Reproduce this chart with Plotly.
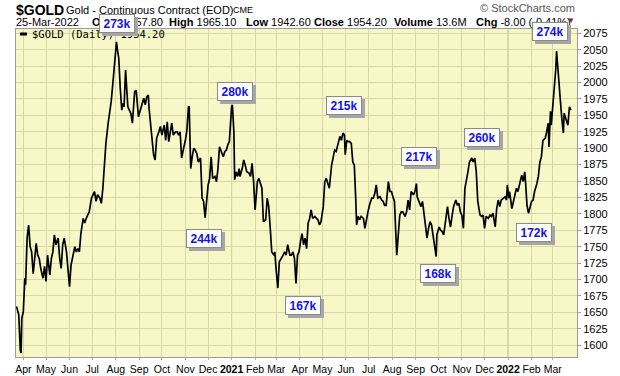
import plotly.graph_objects as go

# ---------------- data ----------------
dates = [
 "2020-03-23","2020-03-26","2020-03-28","2020-03-29","2020-03-30","2020-04-01","2020-04-03","2020-04-04",
 "2020-04-06","2020-04-08","2020-04-10","2020-04-12","2020-04-14","2020-04-16","2020-04-18","2020-04-20",
 "2020-04-22","2020-04-24","2020-04-27","2020-04-29","2020-05-01","2020-05-03","2020-05-06","2020-05-08",
 "2020-05-10","2020-05-12","2020-05-14","2020-05-17","2020-05-19","2020-05-21","2020-05-23","2020-05-25",
 "2020-05-28","2020-05-30","2020-06-01","2020-06-03","2020-06-05","2020-06-08","2020-06-10","2020-06-12",
 "2020-06-14","2020-06-16","2020-06-19","2020-06-21","2020-06-23","2020-06-25","2020-06-27","2020-06-30",
 "2020-07-02","2020-07-04","2020-07-06","2020-07-08","2020-07-11","2020-07-13","2020-07-15","2020-07-17",
 "2020-07-19","2020-07-22","2020-07-24","2020-07-26","2020-07-28","2020-07-30","2020-08-02","2020-08-03",
 "2020-08-05","2020-08-07","2020-08-09","2020-08-10","2020-08-12","2020-08-14","2020-08-16","2020-08-17",
 "2020-08-19","2020-08-21","2020-08-23","2020-08-24","2020-08-26","2020-08-28","2020-08-30","2020-08-31",
 "2020-09-02","2020-09-04","2020-09-06","2020-09-07","2020-09-09","2020-09-11","2020-09-13","2020-09-14",
 "2020-09-17","2020-09-20","2020-09-22","2020-09-24","2020-09-27","2020-09-29","2020-10-01","2020-10-04",
 "2020-10-06","2020-10-08","2020-10-10","2020-10-12","2020-10-14","2020-10-16","2020-10-19","2020-10-21",
 "2020-10-23","2020-10-25","2020-10-27","2020-10-30","2020-11-01","2020-11-03","2020-11-05","2020-11-06",
 "2020-11-08","2020-11-10","2020-11-12","2020-11-14","2020-11-16","2020-11-18","2020-11-21","2020-11-23",
 "2020-11-25","2020-11-27","2020-11-29","2020-12-01","2020-12-03","2020-12-05","2020-12-07","2020-12-10",
 "2020-12-12","2020-12-14","2020-12-16","2020-12-18","2020-12-21","2020-12-23","2020-12-25","2020-12-27",
 "2020-12-29","2021-01-01","2021-01-02","2021-01-04","2021-01-05","2021-01-07","2021-01-09","2021-01-11",
 "2021-01-12","2021-01-15","2021-01-17","2021-01-19","2021-01-21","2021-01-24","2021-01-26","2021-01-28",
 "2021-01-30","2021-02-01","2021-02-04","2021-02-06","2021-02-08","2021-02-10","2021-02-12","2021-02-15",
 "2021-02-17","2021-02-19","2021-02-21","2021-02-23","2021-02-26","2021-02-27","2021-03-01","2021-03-03",
 "2021-03-05","2021-03-08","2021-03-10","2021-03-12","2021-03-14","2021-03-16","2021-03-19","2021-03-21",
 "2021-03-23","2021-03-25","2021-03-27","2021-03-29","2021-03-31","2021-04-02","2021-04-04","2021-04-06",
 "2021-04-08","2021-04-10","2021-04-12","2021-04-14","2021-04-16","2021-04-18","2021-04-21","2021-04-23",
 "2021-04-25","2021-04-27","2021-04-29","2021-05-02","2021-05-04","2021-05-06","2021-05-08","2021-05-10",
 "2021-05-13","2021-05-15","2021-05-17","2021-05-19","2021-05-21","2021-05-24","2021-05-26","2021-05-28",
 "2021-05-30","2021-05-31","2021-06-02","2021-06-04","2021-06-06","2021-06-08","2021-06-10","2021-06-12",
 "2021-06-14","2021-06-15","2021-06-17","2021-06-19","2021-06-21","2021-06-24","2021-06-26","2021-06-28",
 "2021-06-30","2021-07-02","2021-07-05","2021-07-07","2021-07-09","2021-07-11","2021-07-13","2021-07-16",
 "2021-07-18","2021-07-20","2021-07-22","2021-07-24","2021-07-27","2021-07-29","2021-07-31","2021-08-02",
 "2021-08-04","2021-08-07","2021-08-09","2021-08-11","2021-08-13","2021-08-15","2021-08-18","2021-08-20",
 "2021-08-22","2021-08-24","2021-08-26","2021-08-29","2021-08-31","2021-09-02","2021-09-03","2021-09-05",
 "2021-09-08","2021-09-10","2021-09-12","2021-09-14","2021-09-16","2021-09-18","2021-09-20","2021-09-22",
 "2021-09-24","2021-09-26","2021-09-28","2021-09-29","2021-10-02","2021-10-04","2021-10-06","2021-10-08",
 "2021-10-10","2021-10-13","2021-10-15","2021-10-17","2021-10-19","2021-10-21","2021-10-24","2021-10-26",
 "2021-10-28","2021-10-30","2021-11-01","2021-11-03","2021-11-05","2021-11-07","2021-11-09","2021-11-11",
 "2021-11-14","2021-11-16","2021-11-18","2021-11-20","2021-11-22","2021-11-25","2021-11-27","2021-11-29",
 "2021-12-01","2021-12-03","2021-12-06","2021-12-08","2021-12-10","2021-12-12","2021-12-15","2021-12-17",
 "2021-12-19","2021-12-21","2021-12-23","2021-12-26","2021-12-28","2021-12-30","2021-12-31","2022-01-02",
 "2022-01-03","2022-01-06","2022-01-08","2022-01-10","2022-01-12","2022-01-14","2022-01-17","2022-01-19",
 "2022-01-21","2022-01-23","2022-01-24","2022-01-26","2022-01-28","2022-01-30","2022-02-01","2022-02-03",
 "2022-02-05","2022-02-08","2022-02-10","2022-02-12","2022-02-14","2022-02-16","2022-02-19","2022-02-21",
 "2022-02-23","2022-02-24","2022-02-26","2022-02-27","2022-03-02","2022-03-04","2022-03-05","2022-03-06",
 "2022-03-08","2022-03-09","2022-03-11","2022-03-13","2022-03-15","2022-03-16","2022-03-18","2022-03-20",
 "2022-03-21","2022-03-23","2022-03-25",
]
prices = [
 1659,1646,1593,1588,1641,1651,1702,1692,
 1763,1783,1750,1742,1709,1732,1755,1737,
 1732,1717,1702,1720,1697,1737,1707,1732,
 1742,1768,1753,1763,1732,1717,1753,1763,
 1742,1715,1689,1722,1732,1750,1742,1747,
 1742,1770,1793,1786,1793,1798,1803,1824,
 1829,1834,1819,1829,1824,1816,1839,1874,
 1907,1938,1953,1971,1996,2027,2062,2052,
 2037,1991,1958,1968,1963,2019,1986,1963,
 1958,1953,1938,1961,1986,1988,1958,1948,
 1956,1963,1973,1976,1966,1978,1981,1961,
 1925,1890,1882,1915,1925,1933,1920,1935,
 1912,1940,1910,1923,1938,1920,1925,1925,
 1920,1925,1885,1902,1912,1928,1963,1963,
 1869,1887,1900,1897,1892,1879,1885,1824,
 1819,1794,1819,1844,1854,1887,1854,1857,
 1849,1869,1902,1897,1887,1895,1897,1905,
 1910,1963,1966,1925,1852,1864,1857,1869,
 1857,1869,1882,1874,1864,1862,1857,1877,
 1849,1806,1849,1854,1844,1839,1788,1791,
 1824,1811,1778,1742,1737,1742,1712,1687,
 1727,1732,1737,1742,1737,1753,1737,1737,
 1742,1732,1694,1737,1742,1758,1770,1753,
 1763,1747,1786,1793,1806,1793,1796,1793,
 1791,1783,1788,1811,1849,1854,1844,1839,
 1874,1885,1897,1895,1905,1918,1912,1923,
 1920,1890,1912,1910,1910,1907,1879,1874,
 1819,1783,1796,1791,1796,1793,1778,1793,
 1803,1813,1824,1824,1831,1844,1824,1826,
 1821,1819,1813,1813,1849,1834,1834,1826,
 1819,1737,1768,1798,1803,1803,1796,1803,
 1821,1806,1834,1829,1834,1846,1826,1821,
 1811,1819,1803,1783,1763,1778,1788,1783,
 1765,1755,1735,1768,1780,1775,1773,1768,
 1788,1811,1793,1780,1796,1811,1821,1813,
 1816,1803,1798,1778,1839,1849,1864,1879,
 1885,1879,1885,1864,1819,1798,1796,1798,
 1778,1796,1793,1798,1796,1801,1780,1808,
 1821,1811,1821,1824,1826,1821,1844,1824,
 1834,1808,1819,1829,1839,1834,1849,1859,
 1849,1864,1849,1813,1801,1813,1819,1821,
 1834,1846,1857,1879,1887,1912,1915,1925,
 1938,1902,1956,1935,1978,1996,2021,2048,
 2011,2001,1973,1945,1923,1953,1945,1940,
 1935,1963,1958,
]

month_ticks = ["2020-04-01","2020-05-01","2020-06-01","2020-07-01","2020-08-01","2020-09-01",
               "2020-10-01","2020-11-01","2020-12-01","2021-01-01","2021-02-01","2021-03-01",
               "2021-04-01","2021-05-01","2021-06-01","2021-07-01","2021-08-01","2021-09-01",
               "2021-10-01","2021-11-01","2021-12-01","2022-01-01","2022-02-01","2022-03-01"]
month_labels = ["Apr","May","Jun","Jul","Aug","Sep","Oct","Nov","Dec","2021","Feb","Mar",
                "Apr","May","Jun","Jul","Aug","Sep","Oct","Nov","Dec","2022","Feb","Mar"]
year_starts = ["2021-01-01", "2022-01-01"]

note_labels = ["273k", "280k", "244k", "167k", "215k", "217k", "168k", "260k", "172k", "274k"]
note_dates = ["2020-08-03", "2021-01-06", "2020-11-26", "2021-04-05", "2021-05-29",
              "2021-09-05", "2021-09-30", "2021-11-27", "2022-02-04", "2022-02-25"]
note_prices = [2078, 1987, 1763, 1660, 1965, 1887, 1709, 1916, 1772, 2077]
note_lift = [8, 0, 0, 0, 0, 0, 0, 0, 0, 0]   # extra pixels upward for a label above the frame

y_ticks = list(range(1600, 2076, 25))

# ---------------- layout geometry ----------------
W, H = 620, 376
L, R, T, B = 16, 577, 29, 357
PW, PH = R - L, B - T


def px(xp):
    return (xp - L) / PW


def py(yp):
    return (B - yp) / PH


FONT = "Liberation Sans, Arial, sans-serif"

fig = go.Figure()
fig.add_trace(go.Scatter(x=dates, y=prices, mode="lines",
                         line=dict(color="#000000", width=1.7),
                         hoverinfo="skip", showlegend=False))

ticktext = [f"<b>{t}</b>" if t.isdigit() else t for t in month_labels]

fig.update_layout(
    width=W, height=H,
    margin=dict(l=L, r=W - R, t=T, b=H - B, pad=0, autoexpand=False),
    paper_bgcolor="#FFFFFF",
    plot_bgcolor="#F8F7C8",
    font=dict(family=FONT, size=11, color="#000000"),
    xaxis=dict(type="date", range=["2020-03-22 08:00", "2022-04-02"],
               tickmode="array", tickvals=month_ticks, ticktext=ticktext,
               tickangle=0, automargin=False,
               showgrid=True, gridcolor="#D7D9A4", gridwidth=1,
               showline=True, linecolor="#9C9C9C", linewidth=1, mirror=True,
               ticks="outside", ticklen=2, tickcolor="#B0B0B0",
               tickfont=dict(size=10.5, family=FONT), zeroline=False, fixedrange=True),
    yaxis=dict(range=[1582, 2081.5], side="right", tickmode="array",
               tickvals=y_ticks, ticktext=[str(v) for v in y_ticks], automargin=False,
               showgrid=True, gridcolor="#D7D9A4", gridwidth=1,
               showline=True, linecolor="#9C9C9C", linewidth=1, mirror=True,
               ticks="outside", ticklen=3, tickcolor="#9C9C9C",
               tickfont=dict(size=11, family=FONT), zeroline=False, fixedrange=True),
)

shapes = []
for ys in year_starts:
    shapes.append(dict(type="line", xref="x", yref="paper", x0=ys, x1=ys, y0=0, y1=1,
                       line=dict(color="#B4B67E", width=1), layer="below"))
# legend dash
shapes.append(dict(type="line", xref="paper", yref="paper", x0=px(20), x1=px(27),
                   y0=py(34), y1=py(34), line=dict(color="#000000", width=3)))
fig.update_layout(shapes=shapes)

ann = []


def text(x, y, s, size=11, color="#000000", anchor="left", family=FONT):
    ann.append(dict(xref="paper", yref="paper", x=px(x), y=py(y), text=s,
                    showarrow=False, xanchor=anchor, yanchor="middle",
                    font=dict(size=size, color=color, family=family)))


# header line 1
text(14, 10, "<b>$GOLD</b>", size=14)
text(64, 10, "Gold - Continuous Contract (EOD)", size=11)
text(231, 10, "CME", size=9)
text(577, 8, "© StockCharts.com", size=11, color="#555555", anchor="right")
# header line 2
text(14, 22, "25-Mar-2022", size=11)
text(90, 22, "<b>Open</b> 1957.80", size=11)
text(167, 22, "<b>High</b> 1965.10", size=11)
text(244, 22, "<b>Low</b> 1942.60", size=11)
text(312, 22, "<b>Close</b> 1954.20", size=11)
text(392, 22, "<b>Volume</b> 13.6M", size=11)
text(474, 22, "<b>Chg</b> -8.00 (-0.41%)", size=11)
text(577, 21, "▼", size=8, color="#8B1A2B", anchor="right")
# legend text
text(30, 34, "$GOLD (Daily) 1954.20", size=10.5, family="DejaVu Sans Mono, Liberation Mono, monospace")

# value notes with drop shadows
for lab, d, p, lift in zip(note_labels, note_dates, note_prices, note_lift):
    base = dict(xref="x", yref="y", x=d, y=p, text=f"<b>{lab}</b>", showarrow=False,
                xanchor="center", yanchor="middle", width=32, height=15,
                borderpad=1, borderwidth=1, align="center")
    ann.append(dict(base, xshift=3, yshift=lift - 3, bgcolor="#A6A6A6", bordercolor="#A6A6A6",
                    font=dict(size=12, color="#A6A6A6", family=FONT)))
    ann.append(dict(base, yshift=lift, bgcolor="#FFFFFF", bordercolor="#8A8A8A",
                    font=dict(size=12, color="#1414E6", family=FONT)))

fig.update_layout(annotations=ann)

fig.write_html("out.html", config={"displayModeBar": False},
               post_script="document.body.style.margin='0px';")
